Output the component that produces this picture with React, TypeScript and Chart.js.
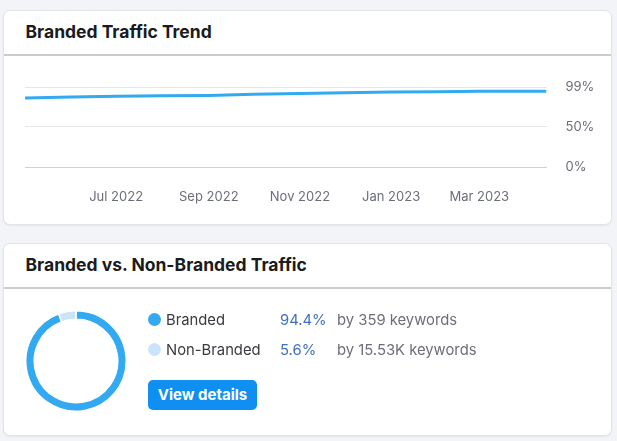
import React, { useEffect, useRef } from "react";
import { Chart, registerables } from "chart.js";

Chart.register(...registerables);

// ---- Data ----
const trendDates = [
  "2022-05-01", "2022-06-01", "2022-07-01", "2022-08-01", "2022-09-01", "2022-10-01",
  "2022-11-01", "2022-12-01", "2023-01-01", "2023-02-01", "2023-03-01", "2023-04-01", "2023-04-15",
];
const brandedShare = [85.5, 86.6, 87.5, 88.2, 88.7, 90.0, 91.0, 91.8, 92.7, 93.2, 93.7, 93.8, 93.8];
const xTickDates = ["2022-07-01", "2022-09-01", "2022-11-01", "2023-01-01", "2023-03-01"];
const xTickLabels = ["Jul 2022", "Sep 2022", "Nov 2022", "Jan 2023", "Mar 2023"];
const yTickValues = [0, 50, 99];
const yTickLabels = ["0%", "50%", "99%"];

const donutLabels = ["Branded", "Non-Branded"];
const donutValues = [94.4, 5.6];
const donutPercents = ["94.4%", "5.6%"];
const donutKeywords = ["by 359 keywords", "by 15.53K keywords"];
const donutColors = ["#33a9f1", "#c9e4fb"];

const FONT = "Inter, 'Noto Sans', sans-serif";
const toTs = (d: string) => new Date(d + "T00:00:00Z").getTime();

function TrendChart() {
  const ref = useRef<HTMLCanvasElement | null>(null);
  useEffect(() => {
    if (!ref.current) return;
    const xTickTs = xTickDates.map(toTs);
    const chart = new Chart(ref.current, {
      type: "line",
      data: {
        datasets: [
          {
            data: trendDates.map((d, i) => ({ x: toTs(d), y: brandedShare[i] })),
            borderColor: "#33a9f1",
            borderWidth: 3,
            pointRadius: 0,
            tension: 0,
            fill: false,
          },
        ],
      },
      options: {
        animation: false,
        responsive: false,
        maintainAspectRatio: false,
        layout: { padding: { left: 22, top: 30, right: 0, bottom: 0 } },
        plugins: { legend: { display: false }, tooltip: { enabled: false } },
        scales: {
          x: {
            type: "linear",
            min: toTs(trendDates[0]),
            max: toTs(trendDates[trendDates.length - 1]),
            grid: { display: false, drawTicks: false },
            border: { display: false },
            afterBuildTicks: (s: any) => {
              s.ticks = xTickTs.map((v) => ({ value: v }));
            },
            afterFit: (s: any) => {
              s.height = 55.5;
            },
            ticks: {
              autoSkip: false,
              maxRotation: 0,
              padding: 22,
              color: "#6c6e79",
              font: { family: FONT, size: 13 },
              callback: (v: any) => {
                const i = xTickTs.indexOf(Number(v));
                return i >= 0 ? xTickLabels[i] : "";
              },
            },
          },
          y: {
            position: "right",
            min: 0,
            max: 99,
            grid: {
              drawTicks: false,
              lineWidth: 1,
              color: (c: any) => (c.tick && c.tick.value === 0 ? "#cfd0d4" : "#e6e7ea"),
            },
            border: { display: false },
            afterBuildTicks: (s: any) => {
              s.ticks = yTickValues.map((v) => ({ value: v }));
            },
            afterFit: (s: any) => {
              s.width = 65.5;
            },
            ticks: {
              padding: 19,
              color: "#6c6e79",
              font: { family: FONT, size: 13 },
              callback: (v: any) => {
                const i = yTickValues.indexOf(Number(v));
                return i >= 0 ? yTickLabels[i] : "";
              },
            },
          },
        },
      },
    });
    return () => chart.destroy();
  }, []);
  return (
    <canvas
      ref={ref}
      width={609}
      height={166}
      style={{ position: "absolute", left: 3, top: 56.5, width: 609, height: 166 }}
    />
  );
}

function DonutChart() {
  const ref = useRef<HTMLCanvasElement | null>(null);
  useEffect(() => {
    if (!ref.current) return;
    const chart = new Chart(ref.current, {
      type: "doughnut",
      data: {
        labels: donutLabels,
        datasets: [
          {
            data: donutValues,
            backgroundColor: donutColors,
            borderColor: "#ffffff",
            borderWidth: 1.5,
          },
        ],
      },
      options: {
        animation: false,
        responsive: false,
        maintainAspectRatio: false,
        cutout: "83%",
        plugins: { legend: { display: false }, tooltip: { enabled: false } },
      },
    });
    return () => chart.destroy();
  }, []);
  return (
    <canvas
      ref={ref}
      width={102}
      height={102}
      style={{ position: "absolute", left: 25, top: 310, width: 102, height: 102 }}
    />
  );
}

const cardStyle: React.CSSProperties = {
  position: "absolute",
  left: 3,
  width: 609,
  background: "#ffffff",
  border: "1px solid #e3e4e8",
  borderRadius: 7,
  boxSizing: "border-box",
  boxShadow: "0 1px 2px rgba(0,0,0,0.06)",
};

const titleStyle: React.CSSProperties = {
  position: "absolute",
  left: 21.5,
  fontFamily: FONT,
  fontWeight: 700,
  fontSize: 17.5,
  color: "#1a1b20",
  whiteSpace: "nowrap",
  lineHeight: "20px",
};

const rowText: React.CSSProperties = {
  position: "absolute",
  top: 0,
  fontSize: 14.8,
  lineHeight: "20px",
  whiteSpace: "nowrap",
};

export default function App() {
  return (
    <div
      style={{
        position: "absolute",
        left: 0,
        top: 0,
        width: 617,
        height: 441,
        background: "#f3f4f8",
        overflow: "hidden",
        fontFamily: FONT,
      }}
    >
      {/* Card 1 */}
      <div style={{ ...cardStyle, top: 10, height: 215 }}>
        <div style={{ ...titleStyle, top: 11 }}>Branded Traffic Trend</div>
        <div style={{ position: "absolute", left: 0, right: 0, top: 43, height: 2, background: "#cbccd0" }} />
      </div>
      <TrendChart />

      {/* Card 2 */}
      <div style={{ ...cardStyle, top: 243, height: 193 }}>
        <div style={{ ...titleStyle, top: 11 }}>Branded vs. Non-Branded Traffic</div>
        <div style={{ position: "absolute", left: 0, right: 0, top: 43, height: 2, background: "#cbccd0" }} />
      </div>
      <DonutChart />

      {donutLabels.map((lab, i) => (
        <div key={lab} style={{ position: "absolute", left: 0, top: 310 + i * 30, height: 20, width: 617 }}>
          <div
            style={{
              position: "absolute",
              left: 148,
              top: 3,
              width: 13,
              height: 13,
              borderRadius: "50%",
              background: donutColors[i],
            }}
          />
          <div style={{ ...rowText, left: 166, color: "#3a3b40" }}>{lab}</div>
          <div style={{ ...rowText, left: 280, color: "#3e6fc4" }}>{donutPercents[i]}</div>
          <div style={{ ...rowText, left: 337, color: "#6c6e79" }}>{donutKeywords[i]}</div>
        </div>
      ))}

      <div
        style={{
          position: "absolute",
          left: 148,
          top: 380,
          width: 109,
          height: 30,
          background: "#0e8ff1",
          borderRadius: 5,
          color: "#ffffff",
          fontWeight: 700,
          fontSize: 15,
          lineHeight: "30px",
          textAlign: "center",
          whiteSpace: "nowrap",
        }}
      >
        View details
      </div>
    </div>
  );
}
